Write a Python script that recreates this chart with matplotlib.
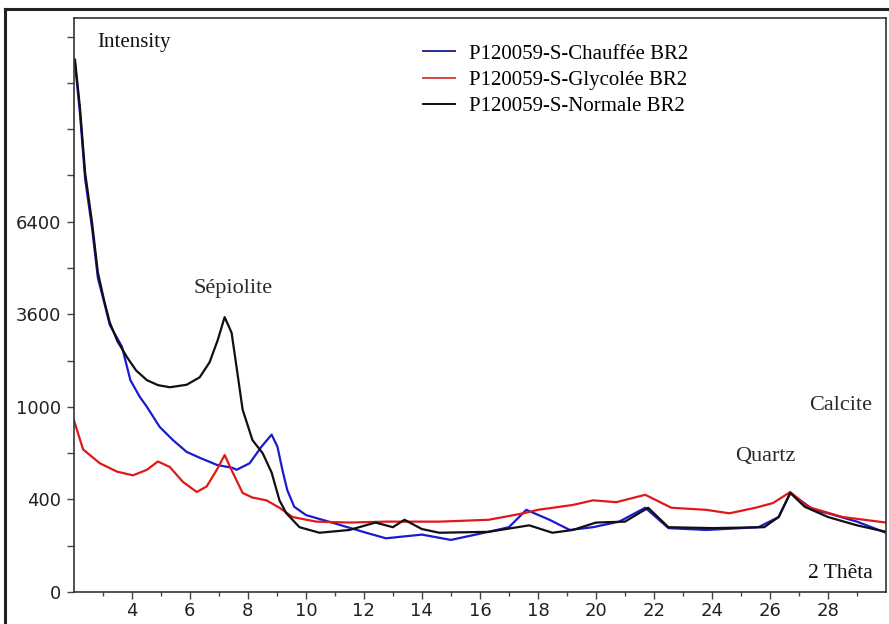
import numpy as np
import matplotlib
matplotlib.use("Agg")
import matplotlib.pyplot as plt
from matplotlib.ticker import FixedLocator, NullFormatter
from matplotlib.lines import Line2D

# ---------------- data (2-theta in degrees, intensity in counts) ----------------
theta_normale = [2.04, 2.21, 2.39, 2.63, 2.83, 3.05, 3.24, 3.5, 3.83, 4.15, 4.52, 4.9, 5.31, 5.89,
                 6.34, 6.68, 6.96, 7.2, 7.44, 7.61, 7.82, 8.16, 8.51, 8.82, 9.09, 9.33, 9.78,
                 10.47, 11.5, 12.4, 13.0, 13.4, 14.0, 14.6, 16.3, 17.7, 18.5, 19.2, 20.0, 21.0,
                 21.8, 22.5, 24.0, 25.8, 26.3, 26.7, 27.2, 28.0, 29.0, 30.0]
int_normale = [11300, 9870, 7880, 6370, 4860, 4000, 3370, 2850, 2400, 2020, 1750, 1610, 1550, 1620,
               1830, 2250, 2870, 3520, 3080, 2120, 982, 784, 700, 574, 396, 340, 280,
               256, 268, 300, 280, 312, 272, 256, 260, 288, 256, 268, 300, 304,
               364, 280, 276, 280, 324, 442, 368, 324, 288, 260]

theta_chauffee = [2.04, 2.21, 2.39, 2.63, 2.83, 3.05, 3.24, 3.66, 3.95, 4.27, 4.52, 4.96, 5.41,
                  5.89, 6.34, 6.93, 7.48, 7.61, 8.06, 8.47, 8.82, 9.02, 9.19, 9.36, 9.6, 10.01,
                  10.9, 12.08, 12.76, 14.0, 15.0, 16.3, 17.0, 17.6, 18.4, 19.1, 19.9, 20.8,
                  21.7, 22.5, 23.8, 25.6, 26.3, 26.7, 27.5, 28.0, 29.0, 30.0]
int_chauffee = [11200, 9700, 7700, 6200, 4700, 3950, 3300, 2690, 1750, 1286, 1000, 870, 786,
                708, 670, 624, 604, 592, 634, 742, 820, 742, 592, 460, 368, 332,
                300, 256, 232, 248, 225, 260, 280, 355, 312, 268, 280, 304,
                364, 276, 268, 280, 324, 442, 355, 340, 304, 256]

theta_glycolee = [2.0, 2.32, 2.9, 3.49, 4.04, 4.52, 4.9, 5.31, 5.76, 6.24, 6.58, 6.93, 7.2,
                  7.48, 7.82, 8.16, 8.64, 9.09, 9.54, 10.36, 11.5, 12.77, 14.6, 16.3, 17.5, 18.0,
                  19.2, 19.9, 20.7, 21.7, 22.6, 23.8, 24.6, 25.5, 26.1, 26.7, 27.3, 28.5, 30.0]
int_glycolee = [916, 724, 634, 580, 556, 592, 646, 610, 514, 448, 484, 592, 688,
                574, 442, 412, 396, 364, 324, 304, 300, 304, 304, 312, 340, 355,
                376, 396, 388, 430, 364, 355, 340, 364, 384, 448, 368, 324, 300]

series_labels = ["P120059-S-Chauffée BR2", "P120059-S-Glycolée BR2", "P120059-S-Normale BR2"]
y_tick_values = [0, 400, 1000, 3600, 6400]
y_minor_values = [200, 700, 2300, 5000, 7800, 9200, 10600, 12000]
x_tick_values = list(range(4, 30, 2))
x_minor_values = list(range(3, 30, 2))

# ---------------- axis scale: the labelled intensities are equally spaced ----------------
KI = np.array(y_tick_values, float)
KP = np.arange(len(KI), dtype=float)


def fwd(v):
    v = np.asarray(v, float)
    out = np.interp(v, KI, KP)
    out = np.where(v > KI[-1], KP[-1] + (v - KI[-1]) / 2800.0, out)
    out = np.where(v < 0, v / 400.0, out)
    return out


def inv(p):
    p = np.asarray(p, float)
    out = np.interp(p, KP, KI)
    out = np.where(p > KP[-1], KI[-1] + (p - KP[-1]) * 2800.0, out)
    out = np.where(p < 0, p * 400.0, out)
    return out


W, H = 889, 624
fig = plt.figure(figsize=(W / 100, H / 100), dpi=100)
ax = fig.add_axes([73.8 / W, 1 - 592 / H, (886 - 73.8) / W, (592 - 18) / H])
ax.set_yscale("function", functions=(fwd, inv))

serif = ["Liberation Serif", "DejaVu Serif"]

l1, = ax.plot(theta_chauffee, int_chauffee, color="#1a1ad0", lw=1.6)
l2, = ax.plot(theta_glycolee, int_glycolee, color="#e01818", lw=1.6)
l3, = ax.plot(theta_normale, int_normale, color="#101010", lw=1.6)

ax.set_xlim(2, 30)
ax.set_ylim(0, 12560)

ax.xaxis.set_major_locator(FixedLocator(x_tick_values))
ax.xaxis.set_minor_locator(FixedLocator(x_minor_values))
ax.yaxis.set_major_locator(FixedLocator(y_tick_values))
ax.yaxis.set_minor_locator(FixedLocator(y_minor_values))
ax.yaxis.set_minor_formatter(NullFormatter())
ax.set_yticklabels([str(v) for v in y_tick_values])
ax.set_xticklabels([str(v) for v in x_tick_values])

ax.tick_params(axis="both", which="both", direction="out", color="#444444",
               labelcolor="#222222", labelsize=13, width=1.0)
ax.tick_params(axis="x", which="major", length=5, pad=2)
ax.tick_params(axis="x", which="minor", length=3)
ax.tick_params(axis="y", which="both", length=5, pad=4)
for s in ax.spines.values():
    s.set_color("#333333")
    s.set_linewidth(1.2)

leg_handles = [Line2D([], [], color=c, lw=1.4) for c in ("#2a2aa0", "#d04848", "#111111")]
ax.legend(leg_handles, series_labels, loc="upper left",
          bbox_to_anchor=(423 / W, 1 - 44 / H), bbox_transform=fig.transFigure,
          frameon=False, borderpad=0, borderaxespad=0, handlelength=1.55,
          handletextpad=0.65, labelspacing=0.32,
          prop={"family": serif, "size": 15})

def ftext(x, y, s, size, color="#111111", ha="center"):
    fig.text(x / W, 1 - y / H, s, ha=ha, va="center", fontsize=size,
             family=serif, color=color)

ftext(97, 42, "Intensity", 15, ha="left")
ftext(233, 288, "Sépiolite", 16, color="#2a2a2a")
ftext(765, 456, "Quartz", 16, color="#2a2a2a")
ftext(841, 405, "Calcite", 16, color="#2a2a2a")
ftext(840, 573, "2 Thêta", 15.5)

# outer frame of the picture
fig.add_artist(Line2D([5 / W, 5 / W], [0, 1 - 9 / H], transform=fig.transFigure,
                      color="#222222", lw=2.2))
fig.add_artist(Line2D([5 / W, 1], [1 - 9 / H, 1 - 9 / H], transform=fig.transFigure,
                      color="#222222", lw=2.2))

fig.savefig("out.png", dpi=100)
